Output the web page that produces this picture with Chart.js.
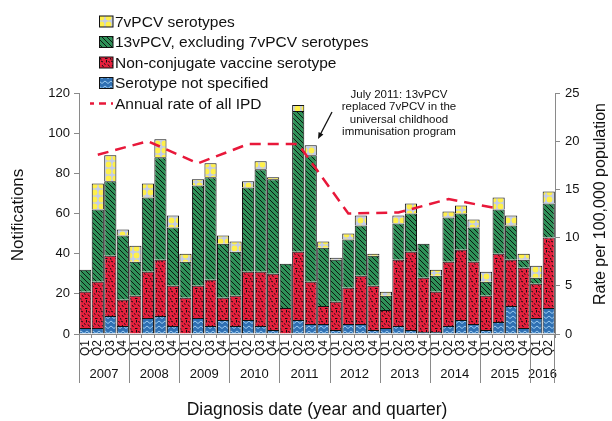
<!DOCTYPE html>
<html><head><meta charset="utf-8">
<script src="https://cdn.jsdelivr.net/npm/chart.js@4/dist/chart.umd.min.js"></script>
<style>html,body{margin:0;padding:0;background:#fff}canvas{display:block}</style>
</head><body>
<canvas id="c" width="612" height="421"></canvas>
<script>
// ---- DATA ----
const quarterLabels = ['Q1','Q2','Q3','Q4','Q1','Q2','Q3','Q4','Q1','Q2','Q3','Q4','Q1','Q2','Q3','Q4','Q1','Q2','Q3','Q4','Q1','Q2','Q3','Q4','Q1','Q2','Q3','Q4','Q1','Q2','Q3','Q4','Q1','Q2','Q3','Q4','Q1','Q2'];
const yearLabels = ['2007','2008','2009','2010','2011','2012','2013','2014','2015','2016'];
const quartersPerYear = [4,4,4,4,4,4,4,4,4,2];
const notSpecified = [3,3,9,4,0,8,9,4,0,8,4,7,4,7,4,2,0,7,5,5,2,5,5,2,3,4,2,1,1,4,7,5,2,6,14,3,8,13];
const nonConjugate = [18,23,30,13,19,23,28,20,18,16,23,11,15,24,27,28,13,34,21,9,14,18,24,22,9,33,39,27,20,32,35,31,17,34,23,30,17,35];
const pcv13Excl7 = [11,36,37,32,17,37,51,29,18,50,51,27,22,42,51,47,22,70,63,29,21,24,25,15,7,18,19,17,8,22,18,17,7,22,17,4,3,17];
const pcv7 = [0,13,13,3,8,7,9,6,4,3,7,4,5,3,4,1,0,3,5,3,1,3,5,1,2,4,5,0,3,3,4,4,5,6,5,3,6,6];
const annualRate = [18.6,20.0,17.7,19.7,19.7,12.5,12.6,14.0,13.0];
const rateQuarterIndex = [1,5,9,13,17,21,25,29,33];
const seriesNames = ['7vPCV serotypes','13vPCV, excluding 7vPCV serotypes','Non-conjugate vaccine serotype','Serotype not specified','Annual rate of all IPD'];
const annotationLines = ['July 2011: 13vPCV','replaced 7vPCV in the','universal childhood','immunisation program'];

const rateSeries = quarterLabels.map(() => null);
rateQuarterIndex.forEach((q, k) => { rateSeries[q] = annualRate[k]; });

// ---- PATTERNS ----
function mkPattern(w, h, draw) {
  const c = document.createElement('canvas'); c.width = w; c.height = h;
  const g = c.getContext('2d'); draw(g, w, h);
  return g.createPattern(c, 'repeat');
}
const pBlue = mkPattern(6, 5, (g, w, h) => {
  g.fillStyle = '#2F70B3'; g.fillRect(0, 0, w, h);
  g.strokeStyle = '#9CCBF0'; g.lineWidth = 1;
  g.beginPath(); g.moveTo(0, 3.5); g.lineTo(3, 1); g.lineTo(6, 3.5); g.stroke();
});
const pRed = mkPattern(10, 10, (g, w, h) => {
  g.fillStyle = '#E6203D'; g.fillRect(0, 0, w, h);
  g.strokeStyle = '#111'; g.lineWidth = 1;
  const segs = [[1,1,3,2],[6.5,0,6.5,2.5],[8,4.5,9.5,6.5],[2,5,3.5,7],[5,8.5,7.5,8.5],[0.5,8,1,9.8],[4,3.5,5.5,4.5],[8.5,1,9.5,2.5]];
  g.beginPath(); segs.forEach(s => { g.moveTo(s[0], s[1]); g.lineTo(s[2], s[3]); }); g.stroke();
});
const pGreen = mkPattern(5, 5, (g, w, h) => {
  g.fillStyle = '#2F9158'; g.fillRect(0, 0, w, h);
  g.strokeStyle = '#0a0a0a'; g.lineWidth = 0.9;
  g.beginPath(); g.moveTo(0, 0); g.lineTo(5, 5); g.moveTo(-1, 4); g.lineTo(1, 6); g.moveTo(4, -1); g.lineTo(6, 1); g.stroke();
});
const pYellow = mkPattern(7, 7, (g, w, h) => {
  g.fillStyle = '#C3CCE8'; g.fillRect(0, 0, w, h);
  g.fillStyle = '#FFF04A'; g.beginPath(); g.arc(3.5, 3.5, 2.9, 0, Math.PI * 2); g.fill();
});
const RED_LINE = '#E8183A';
const FONT = '"Liberation Sans", Arial, sans-serif';

const extras = {
  id: 'extras',
  afterDraw(chart) {
    const ctx = chart.ctx, ca = chart.chartArea, x = chart.scales.x;
    ctx.save();
    // year separators and labels
    ctx.strokeStyle = '#8a8a8a'; ctx.lineWidth = 1;
    const step = (ca.right - ca.left) / quarterLabels.length;
    const bottomY = 383;
    ctx.beginPath();
    ctx.moveTo(ca.left + 0.5, ca.bottom); ctx.lineTo(ca.left + 0.5, bottomY);
    ctx.moveTo(ca.right - 0.5, ca.bottom); ctx.lineTo(ca.right - 0.5, bottomY);
    let idx = 0;
    ctx.fillStyle = '#111'; ctx.font = '13px ' + FONT; ctx.textAlign = 'center'; ctx.textBaseline = 'middle';
    yearLabels.forEach((yr, k) => {
      const n = quartersPerYear[k];
      const x0 = x.getPixelForValue(idx) - step / 2;
      const x1 = x.getPixelForValue(idx + n - 1) + step / 2;
      ctx.fillText(yr, (x0 + x1) / 2, 374);
      if (k > 0) { ctx.moveTo(Math.round(x0) + 0.5, ca.bottom); ctx.lineTo(Math.round(x0) + 0.5, bottomY); }
      idx += n;
    });
    ctx.stroke();
    // axis titles
    ctx.fillStyle = '#111';
    ctx.font = '17.5px ' + FONT;
    ctx.fillText('Diagnosis date (year and quarter)', 317, 410);
    ctx.save(); ctx.translate(18, 215); ctx.rotate(-Math.PI / 2); ctx.font = '17px ' + FONT; ctx.fillText('Notifications', 0, 0); ctx.restore();
    ctx.save(); ctx.translate(601, 204); ctx.rotate(-Math.PI / 2); ctx.font = '16px ' + FONT; ctx.fillText('Rate per 100,000 population', 0, 0); ctx.restore();
    // legend
    const pats = [pYellow, pGreen, pRed, pBlue];
    const ys = [21.5, 42, 62.5, 83, 103.5];
    ctx.font = '15.5px ' + FONT; ctx.textAlign = 'left'; ctx.textBaseline = 'middle';
    for (let i = 0; i < 4; i++) {
      ctx.fillStyle = pats[i]; ctx.fillRect(99, ys[i] - 5.5, 14, 11);
      ctx.strokeStyle = '#111'; ctx.lineWidth = 1; ctx.strokeRect(99.5, ys[i] - 5.5, 13.5, 11);
      ctx.fillStyle = '#111'; ctx.fillText(seriesNames[i], 115, ys[i] + 1);
    }
    ctx.strokeStyle = RED_LINE; ctx.lineWidth = 2.5; ctx.setLineDash([7, 5]); ctx.lineDashOffset = 3;
    ctx.beginPath(); ctx.moveTo(90, ys[4]); ctx.lineTo(113, ys[4]); ctx.stroke();
    ctx.setLineDash([]);
    ctx.fillStyle = '#111'; ctx.fillText(seriesNames[4], 115, ys[4] + 1);
    // annotation
    ctx.font = '11.5px ' + FONT; ctx.textAlign = 'center';
    annotationLines.forEach((t, i) => ctx.fillText(t, 399, 95 + i * 12.3));
    // arrow
    const ax0 = 332, ay0 = 112, ax1 = 318, ay1 = 139;
    ctx.strokeStyle = '#111'; ctx.lineWidth = 1.3;
    ctx.beginPath(); ctx.moveTo(ax0, ay0); ctx.lineTo(ax1 + 1.5, ay1 - 3); ctx.stroke();
    const ang = Math.atan2(ay1 - ay0, ax1 - ax0);
    ctx.fillStyle = '#111'; ctx.beginPath();
    ctx.moveTo(ax1, ay1);
    ctx.lineTo(ax1 - 7 * Math.cos(ang - 0.4), ay1 - 7 * Math.sin(ang - 0.4));
    ctx.lineTo(ax1 - 7 * Math.cos(ang + 0.4), ay1 - 7 * Math.sin(ang + 0.4));
    ctx.closePath(); ctx.fill();
    ctx.restore();
  }
};

const barCommon = { type: 'bar', yAxisID: 'y', borderColor: '#111', borderWidth: 1, barPercentage: 0.97, categoryPercentage: 1.0, stack: 's' };
new Chart(document.getElementById('c'), {
  data: {
    labels: quarterLabels,
    datasets: [
      { type: 'line', label: seriesNames[4], data: rateSeries, yAxisID: 'y1', borderColor: RED_LINE, borderWidth: 2.5, borderDash: [11, 7], pointRadius: 0, spanGaps: true, tension: 0, fill: false, order: 0 },
      Object.assign({ label: seriesNames[3], data: notSpecified, backgroundColor: pBlue, order: 1 }, barCommon),
      Object.assign({ label: seriesNames[2], data: nonConjugate, backgroundColor: pRed, order: 1 }, barCommon),
      Object.assign({ label: seriesNames[1], data: pcv13Excl7, backgroundColor: pGreen, order: 1 }, barCommon),
      Object.assign({ label: seriesNames[0], data: pcv7, backgroundColor: pYellow, order: 1 }, barCommon)
    ]
  },
  options: {
    responsive: false, animation: false, devicePixelRatio: 1,
    layout: { padding: { left: 0, right: 0, top: 93, bottom: 0 } },
    plugins: { legend: { display: false }, tooltip: { enabled: false } },
    scales: {
      x: {
        stacked: true, offset: true,
        grid: { display: true, drawOnChartArea: false, drawTicks: true, tickLength: 4, color: '#8a8a8a', offset: true },
        border: { display: true, color: '#8a8a8a' },
        ticks: { autoSkip: false, maxRotation: 90, minRotation: 90, padding: 2, color: '#111', font: { family: FONT, size: 12 } },
        afterFit(s) { s.height = 87; }
      },
      y: {
        stacked: true, position: 'left', min: 0, max: 120,
        grid: { drawOnChartArea: false, drawTicks: true, tickLength: 5, color: '#8a8a8a' },
        border: { display: true, color: '#8a8a8a' },
        ticks: { stepSize: 20, padding: 4, color: '#111', font: { family: FONT, size: 13 } },
        afterFit(s) { s.width = 79; }
      },
      y1: {
        position: 'right', min: 0, max: 25,
        grid: { drawOnChartArea: false, drawTicks: true, tickLength: 5, color: '#8a8a8a' },
        border: { display: true, color: '#8a8a8a' },
        ticks: { stepSize: 5, padding: 5, color: '#111', font: { family: FONT, size: 13 } },
        afterFit(s) { s.width = 57; }
      }
    }
  },
  plugins: [extras]
});
</script>
</body></html>
